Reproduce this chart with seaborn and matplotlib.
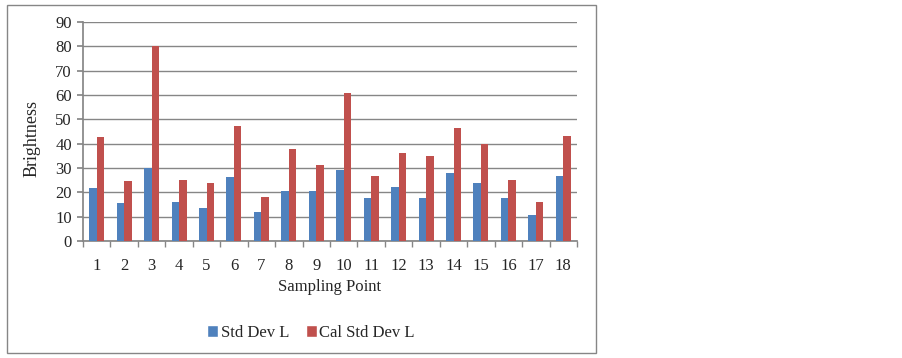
import numpy as np
import pandas as pd
import seaborn as sns
import matplotlib.pyplot as plt
from matplotlib.patches import Rectangle, Patch

points = [str(i) for i in range(1, 19)]
std_dev_l = [21.7, 15.8, 30.1, 16.2, 13.7, 26.2, 11.8, 20.7, 20.7,
             29.2, 17.7, 22.2, 17.7, 27.8, 23.7, 17.7, 10.7, 26.7]
cal_std_dev_l = [42.7, 24.7, 80.1, 25.2, 23.7, 47.3, 18.2, 37.8, 31.2,
                 60.7, 26.7, 36.3, 34.8, 46.3, 39.9, 25.2, 16.2, 43.3]
series = ["Std Dev L", "Cal Std Dev L"]
colors = ["#4F81BD", "#C0504D"]

df = pd.DataFrame({
    "point": points * 2,
    "value": std_dev_l + cal_std_dev_l,
    "series": [series[0]] * 18 + [series[1]] * 18,
})

sns.set_theme(style="white")
plt.rcParams["font.family"] = ["Liberation Serif", "DejaVu Serif"]
fs = 12

fig = plt.figure(figsize=(9.02, 3.58), dpi=100)
ax = fig.add_axes([83 / 902, 1 - 241 / 358, 494 / 902, 219 / 358])

sns.barplot(data=df, x="point", y="value", hue="series", palette=colors,
            width=0.55, gap=0, saturation=1, linewidth=0, ax=ax,
            legend=False, zorder=3)

ax.set_ylim(0, 90)
ax.set_xlim(-0.5, 17.5)
ax.set_yticks(np.arange(0, 91, 10))
ax.yaxis.grid(True, color="#868686", linewidth=1, zorder=0)
ax.set_axisbelow(True)
for s in ["top", "right"]:
    ax.spines[s].set_visible(False)
ax.spines["left"].set_color("#868686")
ax.spines["bottom"].set_color("#868686")
ax.tick_params(axis="y", which="major", left=True, length=4, color="#868686",
               labelsize=fs, pad=4)
ax.tick_params(axis="x", which="major", length=0, labelsize=fs, pad=12)
ax.set_xticks(np.arange(-0.5, 18, 1), minor=True)
ax.tick_params(axis="x", which="minor", bottom=True, length=4, color="#868686")

ax.set_xlabel("Sampling Point", fontsize=fs, labelpad=4)
ax.set_ylabel("Brightness", fontsize=13)
ax.yaxis.set_label_coords(-0.085, 0.466)

handles = [Patch(facecolor=c, label=l) for c, l in zip(colors, series)]
fig.legend(handles=handles, loc="center", bbox_to_anchor=(311 / 902, 1 - 333 / 358),
           ncol=2, frameon=False, fontsize=fs, handlelength=0.65, handleheight=0.75,
           handletextpad=0.15, columnspacing=1.0)

fig.patches.append(Rectangle((7 / 902, 5 / 358), 589 / 902, 348 / 358,
                             transform=fig.transFigure, fill=False,
                             edgecolor="#868686", linewidth=1))

fig.savefig("out.png", dpi=100)
